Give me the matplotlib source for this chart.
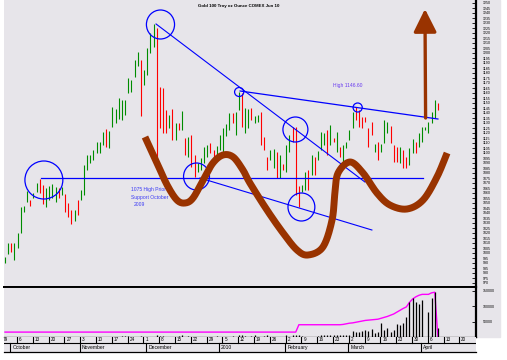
import numpy as np
import pandas as pd
import matplotlib
matplotlib.use('Agg')
import matplotlib.pyplot as plt
from matplotlib.patches import Ellipse, Rectangle

plt.rcParams['font.family'] = ['Liberation Sans', 'DejaVu Sans']

# daily bars, Gold COMEX Jun 10, from 29 Sep 2009
highs = [996, 1010, 1010, 1010, 1020, 1046, 1047, 1062, 1053, 1060,
         1070, 1074, 1068, 1065, 1067, 1069, 1066, 1065, 1066, 1059,
         1050, 1043, 1043, 1053, 1063, 1088, 1098, 1098, 1103, 1111,
         1111, 1121, 1124, 1122, 1146, 1144, 1155, 1153, 1153, 1175,
         1173, 1193, 1201, 1193, 1183, 1205, 1220, 1229, 1225, 1166,
         1165, 1143, 1138, 1144, 1130, 1130, 1142, 1115, 1116, 1118,
         1098, 1090, 1095, 1106, 1108, 1110, 1103, 1107, 1118, 1125,
         1129, 1140, 1140, 1141, 1161, 1160, 1145, 1144, 1145, 1137,
         1138, 1141, 1116, 1096, 1103, 1104, 1101, 1098, 1089, 1108,
         1118, 1126, 1126, 1067, 1068, 1081, 1083, 1098, 1096, 1102,
         1121, 1120, 1123, 1128, 1115, 1121, 1106, 1108, 1111, 1123,
         1141, 1146, 1143, 1136, 1136, 1125, 1131, 1109, 1111, 1109,
         1133, 1131, 1127, 1108, 1106, 1106, 1103, 1096, 1105, 1114,
         1111, 1120, 1126, 1126, 1131, 1141, 1153, 1150]
lows = [990, 999, 1001, 993, 1005, 1020, 1041, 1051, 1047, 1055,
        1061, 1060, 1049, 1046, 1053, 1055, 1051, 1055, 1058, 1041,
        1036, 1029, 1032, 1038, 1053, 1058, 1083, 1090, 1093, 1100,
        1100, 1108, 1106, 1105, 1126, 1130, 1134, 1133, 1138, 1160,
        1161, 1176, 1187, 1137, 1168, 1178, 1200, 1206, 1093, 1125,
        1120, 1120, 1125, 1113, 1113, 1123, 1123, 1098, 1096, 1086,
        1076, 1081, 1083, 1090, 1096, 1100, 1091, 1096, 1103, 1098,
        1117, 1123, 1130, 1118, 1143, 1126, 1120, 1125, 1133, 1130,
        1131, 1108, 1103, 1083, 1093, 1085, 1075, 1075, 1083, 1081,
        1101, 1111, 1058, 1046, 1061, 1063, 1063, 1078, 1078, 1093,
        1103, 1108, 1098, 1108, 1111, 1101, 1096, 1088, 1105, 1113,
        1125, 1133, 1126, 1125, 1131, 1106, 1118, 1101, 1093, 1101,
        1110, 1120, 1110, 1091, 1091, 1090, 1085, 1085, 1088, 1100,
        1100, 1106, 1111, 1123, 1120, 1130, 1135, 1143]
up = [1, 1, 0, 1, 1, 1, 1, 1, 0, 1,
      1, 0, 0, 1, 1, 1, 1, 0, 1, 0,
      0, 0, 1, 0, 1, 1, 1, 1, 1, 1,
      1, 1, 0, 1, 1, 1, 1, 1, 1, 1,
      1, 1, 1, 0, 1, 1, 1, 1, 0, 0,
      0, 0, 1, 0, 1, 0, 1, 0, 1, 0,
      0, 1, 1, 1, 1, 0, 0, 1, 1, 1,
      1, 1, 0, 1, 1, 0, 1, 1, 0, 1,
      1, 0, 0, 0, 1, 1, 0, 1, 0, 1,
      1, 0, 0, 0, 1, 1, 0, 1, 0, 1,
      1, 1, 0, 1, 0, 1, 0, 1, 1, 1,
      1, 0, 0, 0, 0, 0, 0, 1, 0, 1,
      1, 1, 0, 0, 0, 1, 0, 0, 1, 1,
      0, 1, 1, 1, 1, 1, 1, 0]
volume = [0, 0, 0, 0, 0, 0, 0, 0, 0, 0,
          0, 0, 0, 0, 0, 0, 0, 0, 0, 0,
          0, 0, 0, 0, 0, 0, 0, 0, 0, 0,
          0, 0, 0, 0, 0, 0, 0, 4000, 3000, 4000,
          0, 0, 0, 4000, 0, 0, 0, 0, 5000, 4000,
          4000, 0, 0, 0, 0, 4000, 5000, 0, 4000, 0,
          0, 0, 0, 0, 0, 0, 0, 4000, 0, 0,
          0, 0, 4000, 0, 5000, 5000, 4000, 0, 4000, 5000,
          0, 0, 4000, 5000, 0, 0, 0, 0, 0, 5000,
          0, 5000, 6000, 7000, 4000, 0, 0, 0, 0, 4000,
          6000, 5000, 6000, 7000, 6000, 8000, 7000, 8000, 7000, 8000,
          21000, 17000, 17000, 21000, 23000, 21000, 25000, 14000, 17000, 45000,
          23000, 29000, 17000, 23000, 43000, 40000, 47000, 64000, 113000, 128000,
          113000, 109000, 122000, 0, 80000, 128000, 146000, 29000]
open_int = [16000, 16000, 16000, 16000, 16000, 16000, 16000, 16000, 16000, 16000,
            16000, 16000, 16000, 16000, 16000, 16000, 16000, 16000, 16000, 16000,
            16000, 16000, 16000, 16000, 16000, 16000, 16000, 16000, 16000, 16000,
            16000, 16000, 16000, 16000, 16000, 16000, 16000, 16000, 16000, 16000,
            16000, 16000, 16000, 16000, 16000, 16000, 16000, 16000, 16000, 16000,
            16000, 16000, 16000, 16000, 16000, 16000, 16000, 16000, 16000, 16000,
            16000, 16000, 16000, 16000, 16000, 16000, 16000, 16000, 16000, 16000,
            16000, 16000, 16000, 16000, 16000, 16000, 16000, 16000, 16000, 16000,
            16000, 16000, 16000, 16000, 16000, 16000, 16000, 16000, 16000, 16000,
            16000, 16000, 16000, 40000, 40000, 40000, 40000, 40000, 40000, 40000,
            40000, 40000, 40000, 40000, 40000, 40000, 40000, 41000, 43000, 45000,
            46000, 48000, 50000, 52000, 54000, 55000, 56000, 57000, 58000, 61000,
            64000, 67000, 71000, 75000, 81000, 87000, 93000, 98000, 113000, 124000,
            131000, 136000, 139000, 139000, 139000, 144000, 146000, 0]

title = 'Gold 100 Troy oz Ounce COMEX Jun 10'
month_names = {10: 'October', 11: 'November', 12: 'December', 1: '2010',
               2: 'February', 3: 'March', 4: 'April'}

n = len(highs)
idx = np.arange(n)
dates = pd.bdate_range('2009-09-29', periods=150)

bg = '#e7e5ea'
green = '#008c00'
red = '#ff0000'
blue = '#0000ff'
brown = '#993300'

fig = plt.figure(figsize=(5.07, 3.6), dpi=100)
W, H = 507.0, 360.0
fig.patches.append(Rectangle((476 / W, 1 - 337 / H), 24 / W, 337 / H,
                             transform=fig.transFigure, color=bg, zorder=-5))

ax = fig.add_axes([4 / W, 1 - 287 / H, 472 / W, 287 / H])
axv = fig.add_axes([4 / W, 1 - 337 / H, 472 / W, 50 / H])
axd = fig.add_axes([4 / W, 1 - 352 / H, 472 / W, 15 / H])

xl = (-0.32, 149.05)
for a in (ax, axv, axd):
    a.set_facecolor(bg)
    a.set_xlim(*xl)
    a.set_xticks([])
    for s in a.spines.values():
        s.set_visible(False)

# price bars
cols = [green if u else red for u in up]
ax.vlines(idx, lows, highs, colors=cols, lw=0.8, zorder=2)
ax.set_ylim(966, 1253)
ax.yaxis.tick_right()
ax.set_yticks(np.arange(970, 1251, 5))
ax.set_yticklabels([str(v) for v in np.arange(970, 1251, 5)])
ax.tick_params(axis='y', direction='in', length=3, width=0.6, labelsize=2.6, pad=5)
ax.spines['right'].set_visible(True)
ax.spines['right'].set_linewidth(1.6)
ax.spines['bottom'].set_visible(True)
ax.spines['bottom'].set_linewidth(1.4)

ax.text(74, 1247, title, fontsize=3.2, fontweight='bold', ha='center', va='center')

# trend lines and circles
ax.plot([11.4, 132.3], [1075, 1075], color=blue, lw=0.9, zorder=3)
ax.plot([47.8, 113.9], [1229, 1071], color=blue, lw=0.8, zorder=3)
ax.plot([74.4, 137.0], [1162, 1134], color=blue, lw=0.9, zorder=3)
ax.plot([61.7, 116.1], [1075, 1023], color=blue, lw=0.8, zorder=3)
circles = [(12.3, 1073, 12.0, 38), (49.2, 1228.5, 8.9, 29), (74.1, 1161, 2.9, 9),
           (111.6, 1145.5, 2.9, 9), (91.9, 1123.5, 7.9, 25), (93.8, 1046, 8.5, 28),
           (60.6, 1076.5, 8.2, 27)]
for cx, cy, w, h in circles:
    ax.add_patch(Ellipse((cx, cy), w, h, fill=False, edgecolor=blue, lw=0.9, zorder=3))

ax.text(103.8, 1167, 'High 1146.60', fontsize=3.6, color='#6a3cf0', va='center', zorder=3)
ax.text(39.9, 1064, '1075 High Prior', fontsize=3.6, color='#3c3cf5', va='center', zorder=3)
ax.text(39.9, 1056, 'Support October', fontsize=3.6, color='#3c3cf5', va='center', zorder=3)
ax.text(40.8, 1049, '2009', fontsize=3.6, color='#3c3cf5', va='center', zorder=3)


def catmull(pts, steps=24):
    p = np.asarray(pts, dtype=float)
    p = np.vstack([p[0], p, p[-1]])
    t = np.linspace(0, 1, steps, endpoint=False)[:, None]
    out = []
    for k in range(1, len(p) - 2):
        p0, p1, p2, p3 = p[k - 1], p[k], p[k + 1], p[k + 2]
        out.append(0.5 * (2 * p1 + (-p0 + p2) * t + (2 * p0 - 5 * p1 + 4 * p2 - p3) * t ** 2
                          + (-p0 + 3 * p1 - 3 * p2 + p3) * t ** 3))
    out.append(p[-2][None])
    return np.vstack(out)


wave = [(44.3, 1116), (48.1, 1090), (51.3, 1068), (54.4, 1053), (57.0, 1050), (59.5, 1055),
        (62.7, 1073), (65.8, 1090), (69.0, 1098), (72.2, 1096), (75.3, 1083), (77.5, 1070),
        (82.9, 1043), (88.0, 1020), (92.4, 1003), (95.9, 998), (100.6, 1006), (103.5, 1033),
        (104.4, 1060), (105.4, 1080), (109.2, 1091), (113.3, 1080), (117.7, 1060),
        (121.8, 1048), (127.2, 1044), (132.3, 1053), (136.7, 1076), (139.9, 1100)]
curve = catmull(wave)
ax.plot(curve[:, 0], curve[:, 1], color=brown, lw=5, solid_capstyle='butt', zorder=4)

ax.annotate('', xy=(132.9, 1244), xytext=(133.1, 1135),
            arrowprops=dict(arrowstyle='-|>,head_length=0.7,head_width=0.35',
                            lw=2.4, color=brown, mutation_scale=20,
                            shrinkA=0, shrinkB=0), zorder=5)

# volume panel
axv.plot(idx, open_int, color='#ff00ff', lw=1.0, zorder=2)
axv.vlines(idx, 0, volume, colors='black', lw=0.9, zorder=3)
axv.set_ylim(0, 163000)
axv.yaxis.tick_right()
axv.set_yticks([50000, 100000, 150000])
axv.set_yticklabels(['50000', '100000', '150000'])
axv.tick_params(axis='y', direction='in', length=3, width=0.6, labelsize=2.6, pad=5)
for s in ('top', 'right', 'bottom'):
    axv.spines[s].set_visible(True)
axv.spines['top'].set_linewidth(1.4)
axv.spines['right'].set_linewidth(1.6)
axv.spines['bottom'].set_linewidth(0.9)

# date rows
axd.set_ylim(0, 15)
axd.set_yticks([])
axd.axhline(9.5, color='black', lw=0.8)
axd.spines['bottom'].set_visible(True)
axd.spines['bottom'].set_linewidth(0.9)
for k in range(0, 150, 5):
    if k - 1.2 < xl[1]:
        axd.plot([k - 1.2, k - 1.2], [9.5, 15], color='black', lw=0.8, clip_on=True)
        if k < 148:
            axd.text(k - 0.6, 12.2, str(dates[k].day), fontsize=3.3, va='center', ha='left',
                     clip_on=True)
for k in range(1, 150):
    if dates[k].month != dates[k - 1].month and k < xl[1]:
        axd.plot([k - 0.3, k - 0.3], [0, 9.5], color='black', lw=0.8)
        axd.text(k + 0.3, 4.7, month_names[dates[k].month], fontsize=3.6, va='center',
                 ha='left')

fig.savefig('out.png', dpi=100, facecolor='white')
